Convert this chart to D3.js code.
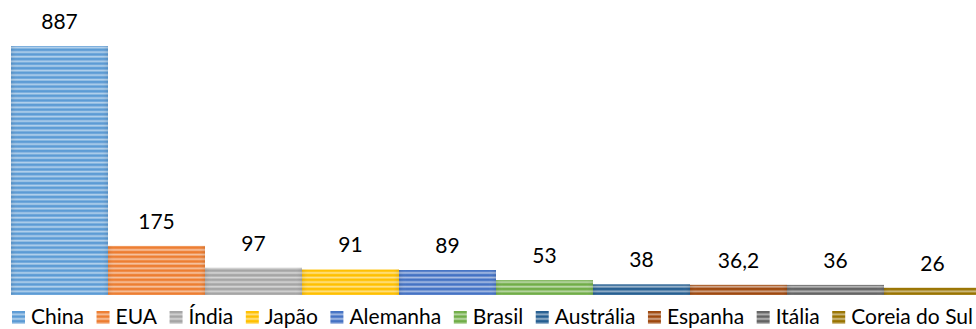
<!DOCTYPE html>
<html><head><meta charset="utf-8">
<script src="https://cdn.jsdelivr.net/npm/d3@7"></script>
<style>body{margin:0;background:#fff}svg{display:block}</style>
</head><body>
<svg id="c" width="976" height="329"></svg>
<script>
const categories = ["China","EUA","Índia","Japão","Alemanha","Brasil","Austrália","Espanha","Itália","Coreia do Sul"];
const values = [887,175,97,91,89,53,38,36.2,36,26];
const valueLabels = ["887","175","97","91","89","53","38","36,2","36","26"];
const colors = ["#5b9bd5","#ed7d31","#a5a5a5","#ffc000","#4472c4","#70ad47","#255e91","#9e480e","#636363","#997300"];

const svg = d3.select("#c");
const FONT = "Lato, 'Open Sans', sans-serif";
const x = d3.scaleBand().domain(categories).range([11, 981]).padding(0);
const y = d3.scaleLinear().domain([0, 887]).range([295, 46]);

const defs = svg.append("defs");
categories.forEach((c, i) => {
  const p = defs.append("pattern").attr("id", "p" + i).attr("patternUnits", "userSpaceOnUse")
    .attr("width", 8).attr("height", 4.6);
  p.append("rect").attr("width", 8).attr("height", 4.6).attr("fill", colors[i]);
  p.append("rect").attr("y", 0.6).attr("width", 8).attr("height", 1.6).attr("fill", "#fff").attr("opacity", 0.55);
  p.append("rect").attr("y", 2.2).attr("width", 8).attr("height", 0.6).attr("fill", "#fff").attr("opacity", 0.25);
});
// edge shading gradient
const g = defs.append("linearGradient").attr("id", "edge").attr("x1", 0).attr("x2", 1);
g.append("stop").attr("offset", 0).attr("stop-color", "#000").attr("stop-opacity", 0.08);
g.append("stop").attr("offset", 0.08).attr("stop-color", "#fff").attr("stop-opacity", 0.0);
g.append("stop").attr("offset", 0.92).attr("stop-color", "#fff").attr("stop-opacity", 0.0);
g.append("stop").attr("offset", 1).attr("stop-color", "#000").attr("stop-opacity", 0.08);

const bars = svg.append("g");
bars.selectAll("rect.bar").data(values).join("rect").attr("class", "bar")
  .attr("x", (d, i) => x(categories[i])).attr("width", x.bandwidth())
  .attr("y", d => y(d)).attr("height", d => y(0) - y(d))
  .attr("fill", (d, i) => `url(#p${i})`);
bars.selectAll("rect.edge").data(values).join("rect").attr("class", "edge")
  .attr("x", (d, i) => x(categories[i])).attr("width", x.bandwidth())
  .attr("y", d => y(d)).attr("height", d => y(0) - y(d))
  .attr("fill", "url(#edge)");

svg.append("g").selectAll("text").data(values).join("text")
  .attr("x", (d, i) => x(categories[i]) + x.bandwidth() / 2)
  .attr("y", d => y(d) - 17)
  .attr("text-anchor", "middle").attr("font-family", FONT).attr("font-size", 21).attr("fill", "#000")
  .text((d, i) => valueLabels[i]);

// legend
const leg = svg.append("g");
const items = leg.selectAll("g").data(categories).join("g");
items.append("rect").attr("width", 13).attr("height", 13).attr("y", 311)
  .attr("fill", (d, i) => `url(#p${i})`);
const texts = items.append("text").attr("y", 324).attr("font-family", FONT).attr("font-size", 21).attr("fill", "#000")
  .text(d => d);
const widths = texts.nodes().map(n => n.getComputedTextLength());
const start = 12, end = 973, sq = 13, gap = 6;
const used = widths.reduce((a, b) => a + b, 0) + categories.length * (sq + gap);
const sp = (end - start - used) / (categories.length - 1);
let cx = start;
items.each(function(d, i) {
  const it = d3.select(this);
  it.select("rect").attr("x", cx);
  it.select("text").attr("x", cx + sq + gap);
  cx += sq + gap + widths[i] + sp;
});
</script>
</body></html>
